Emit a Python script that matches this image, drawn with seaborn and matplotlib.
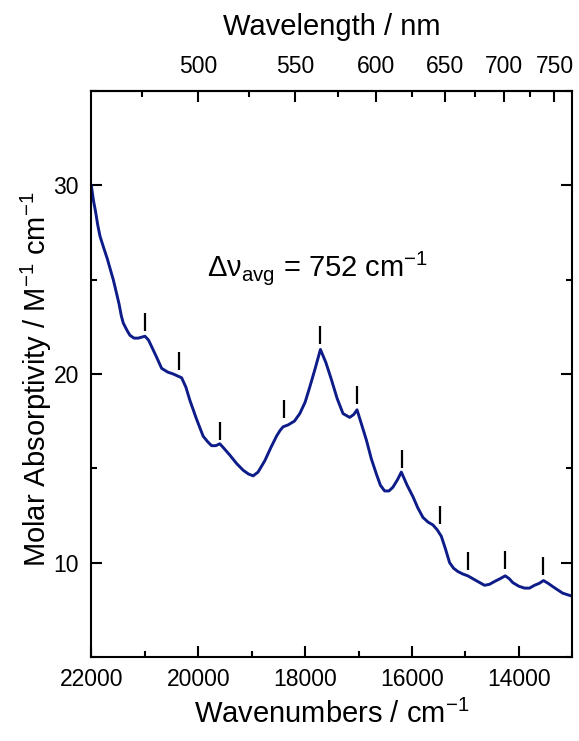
import numpy as np
import pandas as pd
import matplotlib
matplotlib.use("Agg")
import matplotlib.pyplot as plt
from matplotlib.ticker import MultipleLocator, FixedLocator
import seaborn as sns

# ---- data ----
wavenumber = [22000, 21960, 21920, 21880, 21837, 21770, 21700, 21640, 21589, 21530,
              21480, 21440, 21402, 21330, 21277, 21200, 21122, 21060, 20996, 20930,
              20871, 20780, 20684, 20570, 20467, 20390, 20310, 20230, 20155, 20030,
              19907, 19820, 19750, 19670, 19595, 19500, 19408, 19280, 19159, 19060,
              18972, 18880, 18754, 18640, 18535, 18470, 18412, 18318, 18200, 18099,
              18000, 17913, 17810, 17713, 17610, 17507, 17400, 17290, 17165, 17090,
              17028, 16940, 16853, 16760, 16666, 16590, 16511, 16430, 16356, 16270,
              16199, 16090, 15982, 15890, 15795, 15700, 15608, 15530, 15451, 15370,
              15296, 15220, 15141, 15050, 14954, 14800, 14642, 14550, 14455, 14350,
              14255, 14180, 14113, 14000, 13894, 13800, 13707, 13620, 13539, 13450,
              13365, 13270, 13178, 13090, 13000]
absorptivity = [30.0, 29.2, 28.6, 27.9, 27.3, 26.7, 26.1, 25.5, 25.0, 24.3,
                23.7, 23.1, 22.7, 22.3, 22.05, 21.9, 21.9, 21.95, 22.0, 21.8,
                21.45, 20.9, 20.3, 20.1, 20.0, 19.9, 19.8, 19.3, 18.6, 17.6,
                16.7, 16.4, 16.2, 16.2, 16.3, 16.0, 15.7, 15.25, 14.9, 14.7,
                14.6, 14.8, 15.4, 16.1, 16.7, 17.0, 17.2, 17.3, 17.5, 17.9,
                18.5, 19.3, 20.3, 21.3, 20.6, 19.7, 18.7, 17.9, 17.7, 17.85,
                18.1, 17.3, 16.5, 15.5, 14.7, 14.1, 13.8, 13.8, 14.0, 14.4,
                14.8, 14.1, 13.5, 12.9, 12.4, 12.15, 12.0, 11.75, 11.4, 10.7,
                10.0, 9.7, 9.53, 9.4, 9.3, 9.05, 8.8, 8.85, 9.0, 9.15,
                9.3, 9.15, 8.94, 8.75, 8.65, 8.65, 8.8, 8.9, 9.05, 8.9,
                8.73, 8.55, 8.38, 8.3, 8.22]

marker_wn = [20996, 20355, 19595, 18393, 17713, 17028, 16187, 15483, 14947, 14255, 13539]
marker_y = [22.3, 20.2, 16.5, 17.65, 21.6, 18.4, 15.0, 12.05, 9.62, 9.65, 9.35]

top_major_nm = [500, 550, 600, 650, 700, 750]
top_minor_nm = [475, 525, 575, 625, 675, 725]

df = pd.DataFrame({"wn": wavenumber, "eps": absorptivity})

# ---- style ----
sns.set_style("white")
plt.rcParams["font.family"] = ["Liberation Sans", "DejaVu Sans"]
plt.rcParams["mathtext.fontset"] = "custom"
plt.rcParams["mathtext.rm"] = "Liberation Sans"
plt.rcParams["mathtext.it"] = "Liberation Sans:italic"
plt.rcParams["mathtext.sf"] = "Liberation Sans"
for k in ["text.color", "axes.labelcolor", "xtick.color", "ytick.color", "axes.edgecolor"]:
    plt.rcParams[k] = "black"

fig = plt.figure(figsize=(5.79, 7.41), dpi=100)
ax = fig.add_axes([0.1577, 0.1134, 0.8307, 0.7638])

sns.lineplot(data=df, x="wn", y="eps", ax=ax, color="#0d1c88", linewidth=2.1)

ax.vlines(marker_wn, marker_y, [v + 0.95 for v in marker_y], color="black", linewidth=1.6)

ax.set_xlim(22000, 13000)
ax.set_ylim(5, 35)
ax.xaxis.set_major_locator(MultipleLocator(2000))
ax.xaxis.set_minor_locator(MultipleLocator(1000))
ax.yaxis.set_major_locator(MultipleLocator(10))
ax.yaxis.set_minor_locator(MultipleLocator(5))

for s in ax.spines.values():
    s.set_linewidth(1.5)
    s.set_color("black")
    s.set_visible(True)

ax.tick_params(which="both", direction="in", top=False, right=True, bottom=True, left=True,
               width=1.5, colors="black", labelsize=16.5)
ax.tick_params(which="major", length=8)
ax.tick_params(which="minor", length=4)
ax.tick_params(axis="x", which="major", pad=8)
ax.tick_params(axis="y", which="major", pad=9)

ax.set_xlabel("Wavenumbers / cm$^{-1}$", fontsize=21, labelpad=6)
ax.set_ylabel("Molar Absorptivity / M$^{-1}$ cm$^{-1}$", fontsize=21)
ax.yaxis.set_label_coords(-0.078, 0.49)


def wn2nm(x):
    x = np.asarray(x, dtype=float)
    with np.errstate(divide="ignore", invalid="ignore"):
        return 1e7 / x


secax = ax.secondary_xaxis("top", functions=(wn2nm, wn2nm))
secax.xaxis.set_major_locator(FixedLocator(top_major_nm))
secax.xaxis.set_minor_locator(FixedLocator(top_minor_nm))
secax.tick_params(which="both", direction="in", width=1.5, labelsize=16.5, colors="black")
secax.tick_params(which="major", length=8, pad=9.5)
secax.tick_params(which="minor", length=4)
secax.spines["top"].set_linewidth(1.5)
secax.set_xlabel("Wavelength / nm", fontsize=21, labelpad=14)

ax.text(19830, 25.6, "\u0394\u03bd$_{\\mathrm{avg}}$ = 752 cm$^{-1}$", fontsize=21,
        ha="left", va="center", color="black")

fig.savefig("out.png", dpi=100)
